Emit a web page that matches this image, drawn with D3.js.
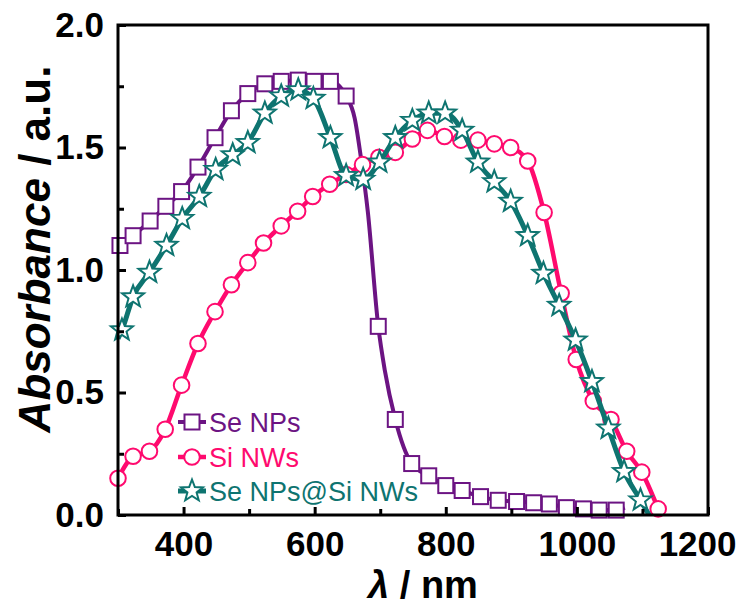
<!DOCTYPE html>
<html><head><meta charset="utf-8">
<script src="https://cdn.jsdelivr.net/npm/d3@7"></script>
<style>body{margin:0;background:#fff;} svg{display:block;font-family:Arial,"Liberation Sans",sans-serif;}</style>
</head><body><svg id="c" width="738" height="606"></svg>
<script>
// ---- data ----
const seriesNames = ["Se NPs", "Si NWs", "Se NPs@Si NWs"];
const seNPsX = [303, 323, 349, 373, 397, 422, 448, 473, 498, 524, 549, 575, 599, 624, 648, 697, 723, 748, 774, 800, 825, 853, 880, 908, 934, 958, 984, 1010, 1034, 1060];
const seNPsY = [1.10, 1.14, 1.20, 1.26, 1.32, 1.42, 1.54, 1.65, 1.72, 1.76, 1.77, 1.775, 1.77, 1.77, 1.71, 0.77, 0.39, 0.21, 0.16, 0.12, 0.10, 0.075, 0.06, 0.055, 0.05, 0.045, 0.03, 0.025, 0.02, 0.02];
// extra line-only points of the Se NPs trace (steep edge and tail)
const seNPsLineX = [661, 671, 681, 707, 1073];
const seNPsLineY = [1.62, 1.45, 1.24, 0.59, 0.03];

const siNWsX = [300, 323, 348, 372, 397, 422, 448, 473, 498, 522, 549, 574, 597, 623, 648, 673, 698, 723, 749, 772, 798, 823, 849, 874, 899, 925, 950, 976, 999, 1025, 1052, 1076, 1099, 1124];
const siNWsY = [0.15, 0.24, 0.26, 0.35, 0.53, 0.70, 0.83, 0.94, 1.03, 1.11, 1.18, 1.24, 1.30, 1.35, 1.39, 1.43, 1.46, 1.48, 1.535, 1.57, 1.545, 1.53, 1.53, 1.515, 1.50, 1.445, 1.235, 0.905, 0.635, 0.465, 0.39, 0.26, 0.175, 0.025];

const hybX = [306, 323, 348, 374, 398, 424, 449, 475, 498, 524, 549, 575, 598, 624, 648, 674, 699, 723, 749, 774, 799, 825, 849, 874, 899, 925, 949, 973, 998, 1023, 1048, 1072, 1097];
const hybY = [0.755, 0.89, 0.99, 1.10, 1.21, 1.30, 1.41, 1.47, 1.52, 1.64, 1.71, 1.735, 1.70, 1.54, 1.385, 1.37, 1.44, 1.54, 1.61, 1.64, 1.64, 1.57, 1.44, 1.36, 1.28, 1.14, 0.986, 0.855, 0.714, 0.544, 0.354, 0.177, 0.061];
const hybLineX = [300, 1110];
const hybLineY = [0.72, 0.0];

const xTicks = [400, 600, 800, 1000, 1200];
const xMinor = [300, 500, 700, 900, 1100];
const yTicks = [0.0, 0.5, 1.0, 1.5, 2.0];
const yMinor = [0.25, 0.75, 1.25, 1.75];

// ---- layout ----
const L = 118, R = 708, T = 25, B = 515;
const colors = ["#6c1483", "#ff0a6e", "#0e7470"];
const svg = d3.select("#c");
const x = d3.scaleLinear().domain([300, 1200]).range([L, R]);
const y = d3.scaleLinear().domain([0, 2]).range([B, T]);

const zip = (a, b) => a.map((v, i) => [v, b[i]]);
const merge = (a, b) => a.concat(b).sort((p, q) => p[0] - q[0]);

const series = [
  { pts: zip(seNPsX, seNPsY), line: merge(zip(seNPsX, seNPsY), zip(seNPsLineX, seNPsLineY)), marker: "square", lw: 4 },
  { pts: zip(siNWsX, siNWsY), line: zip(siNWsX, siNWsY), marker: "circle", lw: 4.5 },
  { pts: zip(hybX, hybY), line: merge(zip(hybX, hybY), zip(hybLineX, hybLineY)), marker: "star", lw: 5 }
];

function starPath(R0) {
  const r0 = R0 * 0.42; let p = "";
  for (let i = 0; i < 10; i++) {
    const a = -Math.PI / 2 + i * Math.PI / 5, rr = i % 2 ? r0 : R0;
    p += (i ? "L" : "M") + (rr * Math.cos(a)).toFixed(2) + "," + (rr * Math.sin(a)).toFixed(2);
  }
  return p + "Z";
}
function drawMarker(g, type, cx, cy, col) {
  if (type === "square") g.append("rect").attr("x", cx - 7.5).attr("y", cy - 7.5).attr("width", 15).attr("height", 15)
    .attr("fill", "#fff").attr("stroke", col).attr("stroke-width", 2);
  else if (type === "circle") g.append("circle").attr("cx", cx).attr("cy", cy).attr("r", 7.8)
    .attr("fill", "#fff").attr("stroke", col).attr("stroke-width", 2);
  else g.append("path").attr("d", starPath(11.5)).attr("transform", `translate(${cx},${cy})`)
    .attr("fill", "#fff").attr("stroke", col).attr("stroke-width", 2).attr("stroke-linejoin", "miter");
}

svg.append("clipPath").attr("id", "clip").append("rect").attr("x", L).attr("y", T).attr("width", R - L).attr("height", B - T);

const lineGen = d3.line().x(d => x(d[0])).y(d => y(d[1])).curve(d3.curveMonotoneX);
series.forEach((s, i) => {
  const g = svg.append("g");
  g.append("path").attr("d", lineGen(s.line)).attr("fill", "none").attr("stroke", colors[i])
    .attr("stroke-width", s.lw).attr("clip-path", "url(#clip)");
  s.pts.forEach(p => drawMarker(g, s.marker, x(p[0]), y(p[1]), colors[i]));
});

// ---- axes ----
const fnt = 35;
const xAxis = svg.append("g").attr("transform", `translate(0,${B})`)
  .call(d3.axisBottom(x).tickValues(xTicks).tickSize(-8).tickPadding(16).tickFormat(d3.format("d")));
const xAxisMinor = svg.append("g").attr("transform", `translate(0,${B})`)
  .call(d3.axisBottom(x).tickValues(xMinor).tickSize(-6).tickFormat(""));
const yAxis = svg.append("g").attr("transform", `translate(${L},0)`)
  .call(d3.axisLeft(y).tickValues(yTicks).tickSize(-8).tickPadding(14).tickFormat(d3.format(".1f")));
const yAxisMinor = svg.append("g").attr("transform", `translate(${L},0)`)
  .call(d3.axisLeft(y).tickValues(yMinor).tickSize(-6).tickFormat(""));
[xAxis, xAxisMinor, yAxis, yAxisMinor].forEach(a => {
  a.select(".domain").remove();
  a.selectAll(".tick line").attr("stroke", "#000").attr("stroke-width", 3);
  a.selectAll("text").attr("font-size", fnt).attr("font-weight", "bold").attr("fill", "#000")
    .attr("font-family", "Arial, 'Liberation Sans', sans-serif");
});
xAxis.selectAll("text").attr("dy", "0.71em");
// last x label kept inside the page, as in the reference
xAxis.selectAll(".tick").filter(d => d === 1200).select("text").attr("text-anchor", "end").attr("x", 736 - R);
svg.append("rect").attr("x", L).attr("y", T).attr("width", R - L).attr("height", B - T)
  .attr("fill", "none").attr("stroke", "#000").attr("stroke-width", 3);

// titles
const xt = svg.append("text").attr("x", 423).attr("y", 598).attr("text-anchor", "middle")
  .attr("font-size", 38).attr("font-weight", "bold").attr("fill", "#000");
xt.append("tspan").attr("font-style", "italic").text("λ");
xt.append("tspan").text(" / nm");
const yt = svg.append("text").attr("transform", "translate(50,249) rotate(-90)").attr("text-anchor", "middle")
  .attr("font-size", 44).attr("font-weight", "bold").attr("fill", "#000");
yt.append("tspan").attr("font-style", "italic").text("Absorbance");
yt.append("tspan").text(" / a.u.");

// legend
const legY = [422, 457, 491];
series.forEach((s, i) => {
  const g = svg.append("g");
  g.append("line").attr("x1", 178).attr("x2", 206).attr("y1", legY[i]).attr("y2", legY[i])
    .attr("stroke", colors[i]).attr("stroke-width", s.lw);
  drawMarker(g, s.marker, 192, legY[i], colors[i]);
  g.append("text").attr("x", 209).attr("y", legY[i]).attr("dy", "0.36em").attr("font-size", 27)
    .attr("fill", colors[i]).text(seriesNames[i]);
});
</script></body></html>
